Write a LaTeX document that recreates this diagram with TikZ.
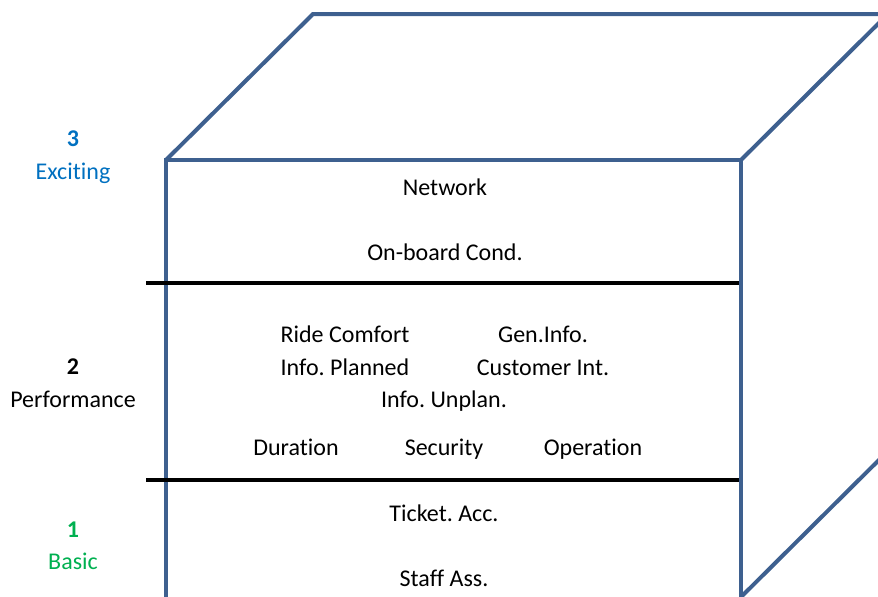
\documentclass[tikz,border=0pt]{standalone}
\usepackage{fontspec}
\setmainfont{Carlito}[Ligatures=NoCommon]
\usepackage{tikz}
\usetikzlibrary{calc}

\definecolor{cubeblue}{RGB}{62,96,143}
\definecolor{excblue}{RGB}{0,112,192}
\definecolor{basgreen}{RGB}{0,176,80}

\tikzset{
    cubeline/.style={draw=cubeblue, line width=2pt, line join=miter},
    levelline/.style={draw=black, line width=2pt},
    item/.style={anchor=base, inner sep=0pt, font=\fontsize{12}{14}\selectfont},
    levelnum/.style={item, font=\fontsize{12}{14}\selectfont\bfseries},
}

\frenchspacing

\begin{document}
\begin{tikzpicture}[x=0.5pt,y=-0.5pt]

\useasboundingbox (0,0) rectangle (878,596);
\clip (0,0) rectangle (878,596);

% cube (cut off at the bottom)
\coordinate (ftl) at (166,160);
\coordinate (ftr) at (741,160);
\coordinate (fbl) at (166,610);
\coordinate (fbr) at (741,597);
\coordinate (btl) at ($(ftl) + (147,-146)$);
\coordinate (btr) at ($(ftr) + (147,-146)$);
\coordinate (bbr) at ($(fbr) + (147,-146)$);

\draw [cubeline] (fbl) -- (ftl) -- (ftr) -- (fbr);
\draw [cubeline] (ftl) -- (btl) -- (btr) -- (ftr);
\draw [cubeline] (btr) -- (bbr) -- (fbr) -- ($(fbr) + (0,13)$);

% levels
\coordinate (div3l) at (146,283);
\coordinate (div3r) at (739,283);
\coordinate (div2l) at (146,480);
\coordinate (div2r) at (739,480);
\draw [levelline] (div3l) -- (div3r);
\draw [levelline] (div2l) -- (div2r);

\node [levelnum, text=excblue] (lvl3) at (73,146) {3};
\node [item, text=excblue] (lvl3_name) at (73,179) {Exciting};
\node [levelnum] (lvl2) at (73,374) {2};
\node [item] (lvl2_name) at (73,407) {Performance};
\node [levelnum, text=basgreen] (lvl1) at (73,537) {1};
\node [item, text=basgreen] (lvl1_name) at (73,569) {Basic};

%%%%%%%%%%%%%%%%%%%%%%%%%%%%%%%%%%%%%%%%%%%%%%%%%%%%%%%%%%%%%%%%%%%%%%%%%%%%%%%%%%%%%%%%

\node [item] (exc_network) at (445,195) {Network};
\node [item] (exc_onboard) at (445,260) {On-board Cond.};

\node [item] (perf_ride) at (345,342) {Ride Comfort};
\node [item] (perf_geninfo) at (543,342) {Gen.Info.};
\node [item] (perf_planned) at (345,375) {Info. Planned};
\node [item] (perf_customer) at (543,375) {Customer Int.};
\node [item] (perf_unplan) at (444,407) {Info. Unplan.};
\node [item] (perf_duration) at (296,455) {Duration};
\node [item] (perf_security) at (444,455) {Security};
\node [item] (perf_operation) at (593,455) {Operation};

\node [item] (bas_ticket) at (444,521) {Ticket. Acc.};
\node [item] (bas_staff) at (444,586) {Staff Ass.};

\end{tikzpicture}
\end{document}
